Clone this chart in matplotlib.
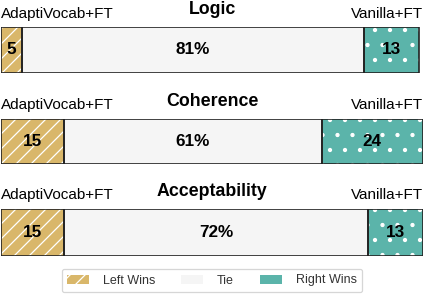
import numpy as np
import matplotlib.pyplot as plt
from matplotlib.patches import Patch

plt.rcParams['font.family'] = ['Liberation Sans', 'DejaVu Sans']
plt.rcParams['hatch.linewidth'] = 1.0

# data
aspects = ["Logic", "Coherence", "Acceptability"]
left_wins = [5, 15, 15]
ties = [81, 61, 72]
right_wins = [13, 24, 13]
left_name = "AdaptiVocab+FT"
right_name = "Vanilla+FT"

c_left = "#D9B76A"
c_tie = "#F5F5F5"
c_right = "#5BB4AA"

W, H = 424, 294
DPI = 90
S = 100 / DPI  # keep pixel sizes of text as at 100 dpi
fig = plt.figure(figsize=(W / DPI, H / DPI), dpi=DPI)

# pixel rows of each bar (top, bottom) and title y
bar_rows = [(27, 73), (119, 164), (209, 256)]
title_y = [10, 101, 191]
label_y = [14, 105, 195]

for i, name in enumerate(aspects):
    top, bot = bar_rows[i]
    ax = fig.add_axes([1 / W, 1 - bot / H, 422 / W, (bot - top) / H])
    l, t, r = left_wins[i], ties[i], right_wins[i]
    # fills with white hatch
    ax.barh(0, l, left=0, height=1, color=c_left, edgecolor="white", hatch="//", linewidth=0)
    ax.barh(0, t, left=l, height=1, color=c_tie, linewidth=0)
    ax.barh(0, r, left=l + t, height=1, color=c_right, edgecolor="white", hatch=".", linewidth=0)
    # black outlines
    ax.barh(0, l, left=0, height=1, fill=False, edgecolor="#222222", linewidth=1.2 * S)
    ax.barh(0, t, left=l, height=1, fill=False, edgecolor="#222222", linewidth=1.2 * S)
    ax.barh(0, r, left=l + t, height=1, fill=False, edgecolor="#222222", linewidth=1.2 * S)
    ax.text(l / 2, 0, str(l), ha="center", va="center", fontsize=12.3 * S, fontweight="bold")
    ax.text(l + t / 2, 0, f"{t}%", ha="center", va="center", fontsize=12.3 * S, fontweight="bold")
    ax.text(l + t + r / 2, 0, str(r), ha="center", va="center", fontsize=12.3 * S, fontweight="bold")
    ax.set_xlim(0, 100)
    ax.set_ylim(-0.5, 0.5)
    ax.axis("off")

    fig.text(212 / W, 1 - title_y[i] / H, name, ha="center", va="center",
             fontsize=12.8 * S, fontweight="bold")
    fig.text(1 / W, 1 - label_y[i] / H, left_name, ha="left", va="center", fontsize=11 * S)
    fig.text(423 / W, 1 - label_y[i] / H, right_name, ha="right", va="center", fontsize=11 * S)

handles = [
    Patch(facecolor=c_left, edgecolor="white", hatch="//", linewidth=0, label="Left Wins"),
    Patch(facecolor=c_tie, linewidth=0, label="Tie"),
    Patch(facecolor=c_right, linewidth=0, label="Right Wins"),
]
leg = fig.legend(handles=handles, loc="center", bbox_to_anchor=(212 / W, 1 - 280.5 / H),
                 ncol=3, fontsize=9 * S, frameon=True, fancybox=True, handlelength=1.75,
                 handleheight=0.7, columnspacing=2.1, handletextpad=1.1, borderpad=0.45)
leg.get_frame().set_edgecolor("#cccccc")
for txt in leg.get_texts():
    txt.set_color("#333333")

fig.savefig("out.png", dpi=DPI)
